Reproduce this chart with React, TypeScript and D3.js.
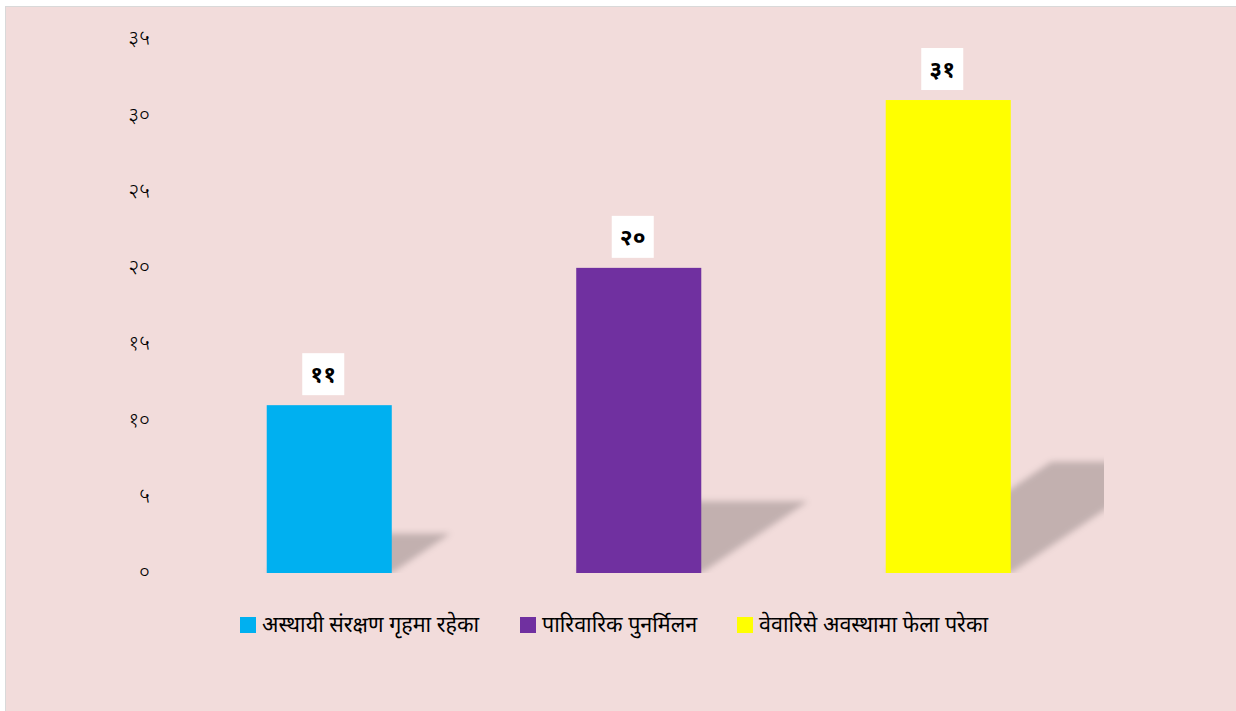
import React from "react";
import * as d3 from "d3";

const categories = ["अस्थायी संरक्षण गृहमा रहेका", "पारिवारिक पुनर्मिलन", "वेवारिसे अवस्थामा फेला परेका"];
const values = [11, 20, 31];
const valueLabels = ["११", "२०", "३१"];
const colors = ["#00B0F0", "#7030A0", "#FFFF00"];
const yTicks = [0, 5, 10, 15, 20, 25, 30, 35];
const yTickLabels = ["०", "५", "१०", "१५", "२०", "२५", "३०", "३५"];
const legendX = [240, 520, 737];

const W = 1236;
const H = 711;
const FONT = "'Noto Sans Devanagari', 'Noto Sans', 'Lohit Devanagari', sans-serif";

export default function App() {
  const x = d3.scaleBand<string>().domain(categories).range([174.5, 1103]).paddingInner(0.596).paddingOuter(0.298);
  const y = d3.scaleLinear().domain([0, 35]).range([573, 39]);
  const y0 = y(0);
  return (
    <div style={{ position: "fixed", left: 0, top: 0 }}>
      <svg width={W} height={H} style={{ display: "block" }}>
        <defs>
          <filter id="blur" x="-20%" y="-20%" width="140%" height="140%">
            <feGaussianBlur stdDeviation={3} />
          </filter>
          <clipPath id="plotclip">
            <rect x={150} y={0} width={1104 - 150} height={y0} />
          </clipPath>
        </defs>
        <rect x={5.5} y={6.5} width={W} height={H} fill="#F2DCDB" stroke="#D9D9D9" strokeWidth={1} />
        {yTicks.map((t, i) => (
          <text key={t} x={150} y={y(t) - 1} dy="0.35em" textAnchor="end" fontFamily={FONT} fontSize={21} fontWeight={300} fill="#000">
            {yTickLabels[i]}
          </text>
        ))}
        <g clipPath="url(#plotclip)">
          {categories.map((c, i) => {
            const x0 = x(c)!;
            const x1 = x0 + x.bandwidth();
            const h = y0 - y(values[i]);
            const s = h * 0.235;
            const dx = h * 0.35;
            const pts = [
              [x0, y0],
              [x1, y0],
              [x1 + dx, y0 - s],
              [x0 + dx, y0 - s],
            ];
            return (
              <polygon
                key={c}
                points={pts.map((p) => p.join(",")).join(" ")}
                fill="rgba(0,0,0,0.2)"
                filter="url(#blur)"
              />
            );
          })}
        </g>
        {categories.map((c, i) => (
          <rect key={c} x={x(c)} y={y(values[i])} width={x.bandwidth()} height={y0 - y(values[i])} fill={colors[i]} />
        ))}
        {categories.map((c, i) => {
          const cx = x(c)! + x.bandwidth() / 2 - 6;
          const top = y(values[i]) - 10;
          return (
            <g key={c}>
              <rect x={cx - 21} y={top - 42} width={42} height={42} fill="#fff" />
              <text x={cx} y={top - 21} dy="0.35em" textAnchor="middle" fontFamily={FONT} fontSize={23} fontWeight="bold" fill="#000">
                {valueLabels[i]}
              </text>
            </g>
          );
        })}
        {categories.map((c, i) => (
          <g key={c}>
            <rect x={legendX[i]} y={617} width={16} height={16} fill={colors[i]} />
            <text x={legendX[i] + 22} y={624} dy="0.35em" fontFamily={FONT} fontSize={21.5} fill="#000">
              {c}
            </text>
          </g>
        ))}
      </svg>
    </div>
  );
}
